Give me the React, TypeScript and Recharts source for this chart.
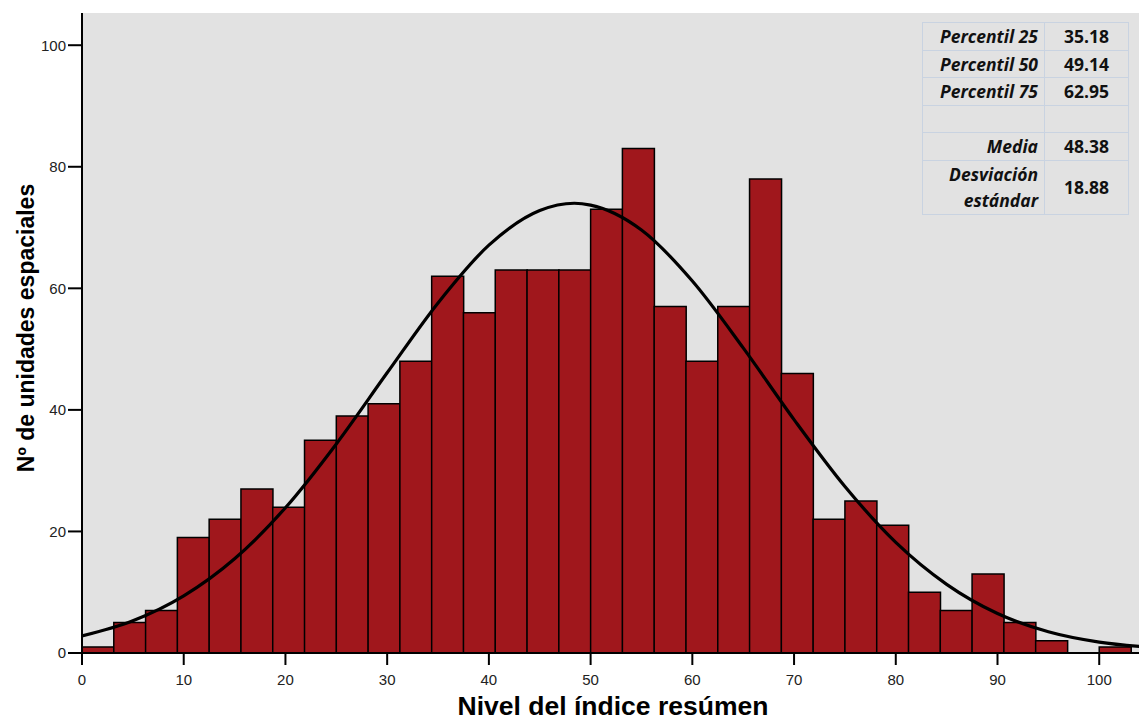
import { Bar, CartesianGrid, ComposedChart, Line, XAxis, YAxis } from "recharts";

// histogram: frequency per bin (bin width 3.125 starting at 0)
const binWidth = 3.125;
const counts = [1, 5, 7, 19, 22, 27, 24, 35, 39, 41, 48, 62, 56, 63, 63, 63, 73, 83, 57, 48, 57, 78, 46, 22, 25, 21, 10, 7, 13, 5, 2, 0, 1];

// fitted normal curve
const curveX = [0, 5, 10, 15, 20, 25, 30, 35, 40, 45, 48.4, 50, 55, 60, 65, 70, 75, 80, 85, 90, 95, 100, 104.5];
const curveY = [2.8, 5.3, 9.4, 15.5, 23.9, 34.4, 46.1, 57.6, 67.1, 72.8, 74.0, 73.7, 69.6, 61.2, 50.2, 38.4, 27.4, 18.2, 11.3, 6.5, 3.5, 1.8, 1.0];

const xTicks = [0, 10, 20, 30, 40, 50, 60, 70, 80, 90, 100];
const yTicks = [0, 20, 40, 60, 80, 100];

const statLabels = ["Percentil 25", "Percentil 50", "Percentil 75", "", "Media", "Desviación estándar"];
const statValues = ["35.18", "49.14", "62.95", "", "48.38", "18.88"];

const bins = counts.map((count, i) => ({ x: (i + 0.5) * binWidth, count }));
const curve = curveX.map((x, i) => ({ x, y: curveY[i] }));

const ARIAL = "Arial, 'Liberation Sans', sans-serif";
const tickStyle = { fontSize: 15, fill: "#222", fontFamily: ARIAL };
const cellBorder = "1.5px solid #c9d3e1";

export default function App() {
  return (
    <div style={{ position: "absolute", left: 0, top: 0, width: 1139, height: 722, overflow: "hidden", background: "#fff" }}>
      <ComposedChart
        width={1150}
        height={722}
        data={bins}
        margin={{ top: 13, right: 5, bottom: 0, left: 0 }}
        barCategoryGap={0}
        barGap={0}
      >
        <CartesianGrid fill="#e2e2e2" horizontal={false} vertical={false} xAxisId="bins" />
        <XAxis
          xAxisId="bins"
          dataKey="x"
          type="number"
          domain={[0, 104.5]}
          allowDataOverflow
          ticks={xTicks}
          interval={0}
          height={69}
          tickSize={12}
          tickMargin={9}
          tick={tickStyle}
          axisLine={{ stroke: "#000", strokeWidth: 2 }}
          tickLine={{ stroke: "#000", strokeWidth: 2 }}
        />
        <XAxis
          xAxisId="curve"
          dataKey="x"
          type="number"
          orientation="top"
          domain={[0, 104.5]}
          allowDataOverflow
          height={0}
          tick={false}
          tickLine={false}
          axisLine={{ stroke: "#000", strokeWidth: 2 }}
        />
        <YAxis
          type="number"
          domain={[0, 105.3]}
          allowDataOverflow
          ticks={yTicks}
          interval={0}
          width={82}
          tickSize={14}
          tickMargin={2}
          tick={tickStyle}
          axisLine={{ stroke: "#000", strokeWidth: 2 }}
          tickLine={{ stroke: "#000", strokeWidth: 2 }}
        />
        <Bar
          xAxisId="bins"
          dataKey="count"
          fill="#a0171c"
          stroke="#000"
          strokeWidth={1.5}
          isAnimationActive={false}
        />
        <Line
          xAxisId="curve"
          data={curve}
          dataKey="y"
          type="monotone"
          stroke="#000"
          strokeWidth={3.2}
          dot={false}
          activeDot={false}
          isAnimationActive={false}
        />
      </ComposedChart>

      <table
        style={{
          position: "absolute",
          left: 922,
          top: 22,
          width: 206,
          tableLayout: "fixed",
          borderCollapse: "collapse",
          fontFamily: "'Open Sans', Lato, sans-serif",
          fontWeight: 700,
          fontSize: 17.5,
          color: "#111",
          lineHeight: "26px",
        }}
      >
        <colgroup>
          <col style={{ width: 122 }} />
          <col style={{ width: 84 }} />
        </colgroup>
        <tbody>
          {statLabels.map((label, i) => (
            <tr key={i} style={{ height: i === statLabels.length - 1 ? 54 : 27.5 }}>
              <td
                style={{
                  border: cellBorder,
                  textAlign: "right",
                  fontStyle: "italic",
                  padding: "0 6px 0 0",
                  whiteSpace: i === statLabels.length - 1 ? "normal" : "nowrap",
                }}
              >
                {label}
              </td>
              <td style={{ border: cellBorder, textAlign: "center", padding: 0 }}>{statValues[i]}</td>
            </tr>
          ))}
        </tbody>
      </table>

      <div
        style={{
          position: "absolute",
          left: 0,
          width: 1226,
          top: 693,
          textAlign: "center",
          fontFamily: ARIAL,
          fontWeight: 700,
          fontSize: 26.5,
          lineHeight: "26px",
          color: "#000",
          whiteSpace: "nowrap",
        }}
      >
        Nivel del índice resúmen
      </div>
      <div
        style={{
          position: "absolute",
          left: 25.5,
          top: 328,
          transform: "translate(-50%, -50%) rotate(-90deg)",
          fontFamily: ARIAL,
          fontWeight: 700,
          fontSize: 23,
          lineHeight: "23px",
          color: "#000",
          whiteSpace: "nowrap",
        }}
      >
        Nº de unidades espaciales
      </div>
    </div>
  );
}
